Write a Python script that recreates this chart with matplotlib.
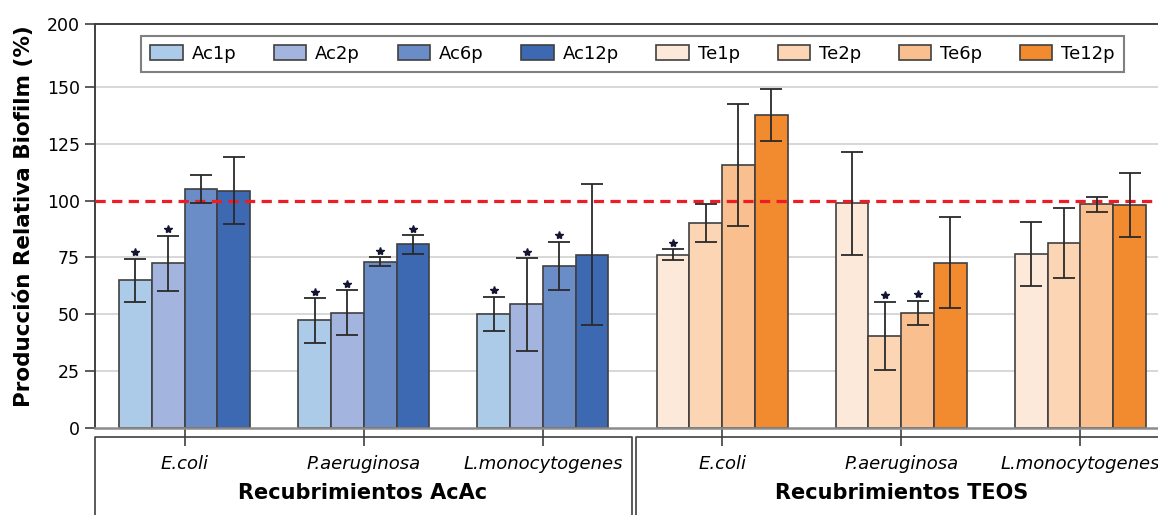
import matplotlib.pyplot as plt
from matplotlib.lines import Line2D
import numpy as np

plt.rcParams['font.family'] = ['DejaVu Sans']

species = ["E.coli", "P.aeruginosa", "L.monocytogenes"]
coatings = ["Recubrimientos AcAc", "Recubrimientos TEOS"]
series = ["Ac1p", "Ac2p", "Ac6p", "Ac12p", "Te1p", "Te2p", "Te6p", "Te12p"]
colors = ["#abcbe8", "#a3b5de", "#6a8cc7", "#3d69b2",
          "#fde9da", "#fcd5b4", "#f9bf8f", "#f28a30"]

# rows = species, columns = Ac1p, Ac2p, Ac6p, Ac12p
acac_mean = [[65.0, 72.4, 105.1, 104.4],
             [47.4, 50.7, 73.2, 80.7],
             [50.3, 54.4, 71.2, 76.3]]
acac_err = [[9.5, 12.1, 6.0, 14.9],
            [9.8, 9.8, 1.8, 4.0],
            [7.5, 20.4, 10.7, 31.0]]
acac_sig = [[1, 1, 0, 0],
            [1, 1, 1, 1],
            [1, 1, 1, 0]]

# rows = species, columns = Te1p, Te2p, Te6p, Te12p
teos_mean = [[76.3, 90.1, 115.6, 137.4],
             [98.7, 40.6, 50.7, 72.7],
             [76.5, 81.4, 98.4, 98.0]]
teos_err = [[2.3, 8.3, 26.6, 11.4],
            [22.8, 15.0, 5.3, 20.0],
            [14.1, 15.5, 3.3, 14.0]]
teos_sig = [[1, 0, 0, 0],
            [0, 1, 1, 0],
            [0, 0, 0, 0]]

W, H = 1158, 515
fig = plt.figure(figsize=(W / 100, H / 100), dpi=100)
ax = fig.add_axes([95 / W, (H - 428.3) / H, 1075 / W, (428.3 - 24) / H])

bw = 0.1828
edge = "#404040"
for k, (mean, err, sig) in enumerate([(acac_mean, acac_err, acac_sig),
                                      (teos_mean, teos_err, teos_sig)]):
    for j in range(4):
        x = k * 3 + np.arange(3) + (j - 1.5) * bw
        h = np.array([row[j] for row in mean])
        e = np.array([row[j] for row in err])
        s = np.array([row[j] for row in sig], dtype=bool)
        ax.bar(x, h, bw, color=colors[k * 4 + j], edgecolor=edge,
               linewidth=1.2, label=series[k * 4 + j], zorder=2)
        ax.errorbar(x, h, yerr=e, fmt='none', ecolor="#2a2a2a",
                    elinewidth=1.3, capsize=8, capthick=1.3, zorder=4)
        ax.plot(x[s], (h + e)[s] + 2.8, linestyle='none', marker='*',
                ms=6, color="#141433", zorder=5)

ax.axhline(100, color="#ee1c25", lw=2.3, linestyle=(0, (3.2, 2.0)), zorder=3)

ytop = 177.5
ax.set_ylim(0, ytop)
ax.set_xlim(-0.5, 5.5)
for g in [25, 50, 75, 125, 150]:
    ax.axhline(g, color="#d4d4d4", lw=1.3, zorder=0)
ax.set_yticks([0, 25, 50, 75, 100, 125, 150, ytop])
ax.set_yticklabels(["0", "25", "50", "75", "100", "125", "150", "200"])
ax.tick_params(axis='y', direction='out', length=7, width=1.2,
               color=edge, labelsize=12.5, pad=4)

ax.set_xticks(range(6))
ax.set_xticklabels(species * 2, style='italic')
ax.tick_params(axis='x', direction='out', length=13, width=1.2,
               color=edge, labelsize=13, pad=6)

ax.spines['left'].set_color(edge)
ax.spines['left'].set_linewidth(1.4)
ax.spines['top'].set_color(edge)
ax.spines['top'].set_linewidth(1.4)
ax.spines['bottom'].set_color("#8c8c8c")
ax.spines['bottom'].set_linewidth(1.8)
ax.spines['right'].set_visible(False)

ax.set_ylabel("Producción Relativa Biofilm (%)", fontsize=15.5,
              fontweight='bold')
ax.yaxis.set_label_coords(-0.057, 0.524)

leg = ax.legend(ncol=8, loc='upper left', mode='expand',
                bbox_to_anchor=(0.0428, 0.874, 0.9144, 0.096),
                borderaxespad=0, fontsize=13, handlelength=1.8,
                handleheight=0.9, fancybox=False, frameon=True,
                borderpad=0.5, handletextpad=0.5)
leg.get_frame().set_edgecolor("#606060")
leg.get_frame().set_linewidth(1.5)

# category boxes under the axis
ybox = (H - 437) / H
fig.add_artist(Line2D([95 / W, 95 / W, 632 / W, 632 / W],
                      [-0.1, ybox, ybox, -0.1], color=edge, lw=1.2))
fig.add_artist(Line2D([636 / W, 636 / W, 1.2],
                      [-0.1, ybox, ybox], color=edge, lw=1.2))
fig.text(363 / W, (H - 493) / H, coatings[0], ha='center', va='center',
         fontsize=15, fontweight='bold')
fig.text(902 / W, (H - 493) / H, coatings[1], ha='center', va='center',
         fontsize=15, fontweight='bold')

fig.savefig("out.png", dpi=100)
